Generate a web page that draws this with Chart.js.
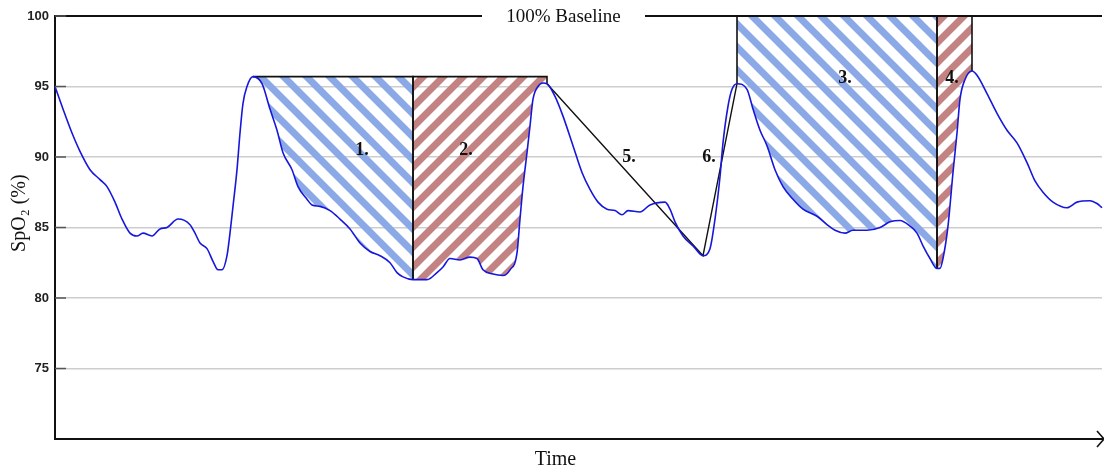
<!DOCTYPE html>
<html>
<head>
<meta charset="utf-8">
<script src="https://cdn.jsdelivr.net/npm/chart.js@4.4.1/dist/chart.umd.min.js"></script>
<style>
  html, body { margin: 0; padding: 0; background: #fff; }
</style>
</head>
<body>
<canvas id="myChart" width="1104" height="472"></canvas>
<script>
// SpO2 trace, time in arbitrary units
const time = [
  0, 8, 17, 25, 35, 45, 52, 60, 67, 75, 82, 88, 97, 105, 112, 123, 135, 140, 145, 152,
  158, 163, 167, 172, 175, 178, 182, 185, 188, 192, 198,
  207, 215, 222, 228, 237, 243, 252, 257, 265, 275, 285, 295, 305, 315, 325, 335, 342, 348, 358,
  372, 382, 388, 395, 405, 415, 422, 428, 438, 448, 455, 462, 465, 468, 472, 475, 478, 483, 488, 492,
  500, 508, 518, 527, 535, 543, 552, 560, 567, 573, 585, 595, 610, 615, 620, 628, 638, 648,
  655, 660, 665, 668, 673, 677, 682,
  692, 698, 705, 712, 720, 728, 738, 748, 762, 772, 780, 790, 798, 812, 825, 835, 845, 855, 862,
  868, 875, 882, 885, 888, 893, 898, 902, 905, 910, 917, 922, 932, 942, 952, 962, 972, 980, 988,
  998, 1012, 1022, 1035, 1042, 1047
];
const spo2 = [
  95.0, 93.4, 91.7, 90.4, 89.1, 88.4, 87.9, 86.8, 85.6, 84.6, 84.4, 84.6, 84.4, 84.9, 85.0, 85.6, 85.2, 84.6, 83.9, 83.5,
  82.6, 82.0, 82.0, 83.0, 84.6, 86.5, 89.1, 91.7, 93.8, 95.0, 95.7,
  95.2, 93.4, 91.9, 90.3, 89.1, 87.9, 87.0, 86.6, 86.5, 86.2, 85.6, 84.9, 83.9, 83.3, 83.0, 82.5, 81.8, 81.5, 81.3,
  81.3, 81.8, 82.2, 82.8, 82.7, 82.9, 82.8, 82.0, 81.7, 81.6, 82.0, 83.2, 85.6, 87.9, 90.3, 92.2, 94.1, 95.0, 95.25, 95.2,
  94.3, 92.9, 90.8, 88.9, 87.7, 86.8, 86.3, 86.2, 85.9, 86.2, 86.1, 86.6, 86.8, 86.3, 85.4, 84.4, 83.7, 83.0,
  83.5, 85.6, 88.6, 91.0, 93.6, 94.8, 95.2,
  94.8, 93.4, 91.9, 90.8, 89.1, 87.9, 87.0, 86.3, 85.8, 85.2, 84.8, 84.6, 84.8, 84.8, 85.0, 85.4, 85.5, 85.1, 84.6,
  83.7, 82.8, 82.1, 82.1, 82.8, 85.1, 88.9, 91.7, 94.1, 95.5, 96.1, 95.8, 94.5, 93.1, 91.9, 91.0, 89.6, 88.3, 87.5,
  86.8, 86.4, 86.8, 86.9, 86.7, 86.4
];

// shaded areas 1.-4.
const regionStart = [198, 358, 682, 882];
const regionEnd = [358, 492, 882, 917];
const regionTop = [95.7, 95.7, 100, 100];
const regionStyle = ["blue", "red", "blue", "red"];

// chords 5. and 6.
const chordTimes = [492, 648, 682];

// annotations
const markLabels = ["1.", "2.", "3.", "4.", "5.", "6."];
const markTime = [307, 411, 790, 897, 574, 654];
const markValue = [90.5, 90.5, 95.6, 95.6, 90.0, 90.0];

const baselineValue = 100;
const baselineGap = [427, 590];
const baselineText = "100% Baseline";

const yTicks = [75, 80, 85, 90, 95, 100];

function valueAt(t) {
  return spo2[time.indexOf(t)];
}

// diagonal stripe tile; lines run well past the tile so the corners join up
function stripes(color, size, width, dir) {
  const c = document.createElement("canvas");
  c.width = size;
  c.height = size;
  const g = c.getContext("2d");
  g.strokeStyle = color;
  g.lineWidth = width;
  g.beginPath();
  for (let k = -2; k <= 2; k++) {
    if (dir > 0) {
      g.moveTo(k * size - size, 2 * size);
      g.lineTo(k * size + 2 * size, -size);
    } else {
      g.moveTo(k * size - size, -size);
      g.lineTo(k * size + 2 * size, 2 * size);
    }
  }
  g.stroke();
  return g.createPattern(c, "repeat");
}

const patterns = {
  blue: stripes("#8ba9e6", 23, 7, -1),
  red: stripes("#c48383", 20, 7, 1),
};

const trace = time.map((t, i) => ({ x: t, y: spo2[i] }));

const datasets = [];

// the SpO2 curve on top
datasets.push({
  data: trace,
  borderColor: "#1717dc",
  borderWidth: 1.6,
  pointRadius: 0,
  cubicInterpolationMode: "monotone",
  fill: false,
  clip: false,
});

// outlines of the shaded areas
regionStart.forEach((s, i) => {
  const e = regionEnd[i];
  datasets.push({
    data: [
      { x: s, y: valueAt(s) },
      { x: s, y: regionTop[i] },
      { x: e, y: regionTop[i] },
      { x: e, y: valueAt(e) },
    ],
    borderColor: "#111",
    borderWidth: 1.6,
    pointRadius: 0,
    fill: false,
    clip: false,
  });
});

// chords 5. and 6.
datasets.push({
  data: chordTimes.map((t) => ({ x: t, y: valueAt(t) })),
  borderColor: "#111",
  borderWidth: 1.4,
  pointRadius: 0,
  fill: false,
  clip: false,
});

// 100% baseline
datasets.push({
  data: [
    { x: time[0], y: baselineValue },
    { x: baselineGap[0], y: baselineValue },
    { x: (baselineGap[0] + baselineGap[1]) / 2, y: null },
    { x: baselineGap[1], y: baselineValue },
    { x: time[time.length - 1], y: baselineValue },
  ],
  borderColor: "#111",
  borderWidth: 2,
  pointRadius: 0,
  spanGaps: false,
  fill: false,
  clip: false,
});

// hatched fills
regionStart.forEach((s, i) => {
  const e = regionEnd[i];
  datasets.push({
    data: trace.filter((p) => p.x >= s && p.x <= e),
    borderColor: "rgba(0,0,0,0)",
    borderWidth: 0,
    pointRadius: 0,
    cubicInterpolationMode: "monotone",
    backgroundColor: patterns[regionStyle[i]],
    fill: { value: regionTop[i] },
  });
});

const decor = {
  id: "decor",
  afterDatasetsDraw(chart) {
    const { ctx, chartArea: a, scales } = chart;
    const x = scales.x;
    const y = scales.y;
    ctx.save();

    // short inner ticks on the y axis
    ctx.strokeStyle = "#555";
    ctx.lineWidth = 1.5;
    yTicks.forEach((v) => {
      const py = y.getPixelForValue(v);
      ctx.beginPath();
      ctx.moveTo(a.left, py);
      ctx.lineTo(a.left + 11, py);
      ctx.stroke();
    });

    ctx.fillStyle = "#111";
    ctx.textAlign = "center";
    ctx.textBaseline = "middle";

    ctx.font = "bold 18px 'Liberation Serif'";
    markLabels.forEach((s, i) => {
      ctx.fillText(s, x.getPixelForValue(markTime[i]), y.getPixelForValue(markValue[i]));
    });

    ctx.font = "19px 'Liberation Serif'";
    ctx.fillText(baselineText, x.getPixelForValue((baselineGap[0] + baselineGap[1]) / 2), y.getPixelForValue(baselineValue) + 1);

    ctx.font = "20px 'Liberation Serif'";
    ctx.fillText("Time", a.left + a.width * 0.478, a.bottom + 21);

    ctx.save();
    ctx.translate(20, a.top + a.height * 0.466);
    ctx.rotate(-Math.PI / 2);
    ctx.fillText("SpO\u2082 (%)", 0, 0);
    ctx.restore();

    // arrow at the end of the time axis
    ctx.strokeStyle = "#111";
    ctx.lineWidth = 1.6;
    ctx.beginPath();
    ctx.moveTo(a.right - 5, a.bottom - 8);
    ctx.lineTo(a.right + 2, a.bottom);
    ctx.lineTo(a.right - 5, a.bottom + 8);
    ctx.stroke();

    ctx.restore();
  },
};

const ctx = document.getElementById("myChart");
const myChart = new Chart(ctx, {
  type: "line",
  data: { datasets: datasets },
  plugins: [decor],
  options: {
    responsive: false,
    devicePixelRatio: 1,
    animation: false,
    layout: { padding: { top: 16, right: 2, bottom: 33, left: 0 } },
    plugins: {
      legend: { display: false },
      tooltip: { enabled: false },
    },
    scales: {
      x: {
        type: "linear",
        min: 0,
        max: 1047,
        ticks: { display: false },
        grid: { color: "rgba(0,0,0,0)", drawTicks: false },
        border: { color: "#111", width: 2 },
      },
      y: {
        min: 70,
        max: 100,
        afterBuildTicks: (s) => {
          s.ticks = yTicks.map((v) => ({ value: v }));
        },
        afterFit: (s) => {
          s.width = 55;
        },
        grid: {
          color: (c) => (c.tick && c.tick.value === 100 ? "rgba(0,0,0,0)" : "#cdcdcd"),
          lineWidth: 1.5,
          drawTicks: false,
        },
        border: { color: "#111", width: 2 },
        ticks: {
          padding: 6,
          color: "#222",
          font: { family: "Liberation Sans", size: 13, weight: "bold" },
        },
      },
    },
  },
});
</script>
</body>
</html>
